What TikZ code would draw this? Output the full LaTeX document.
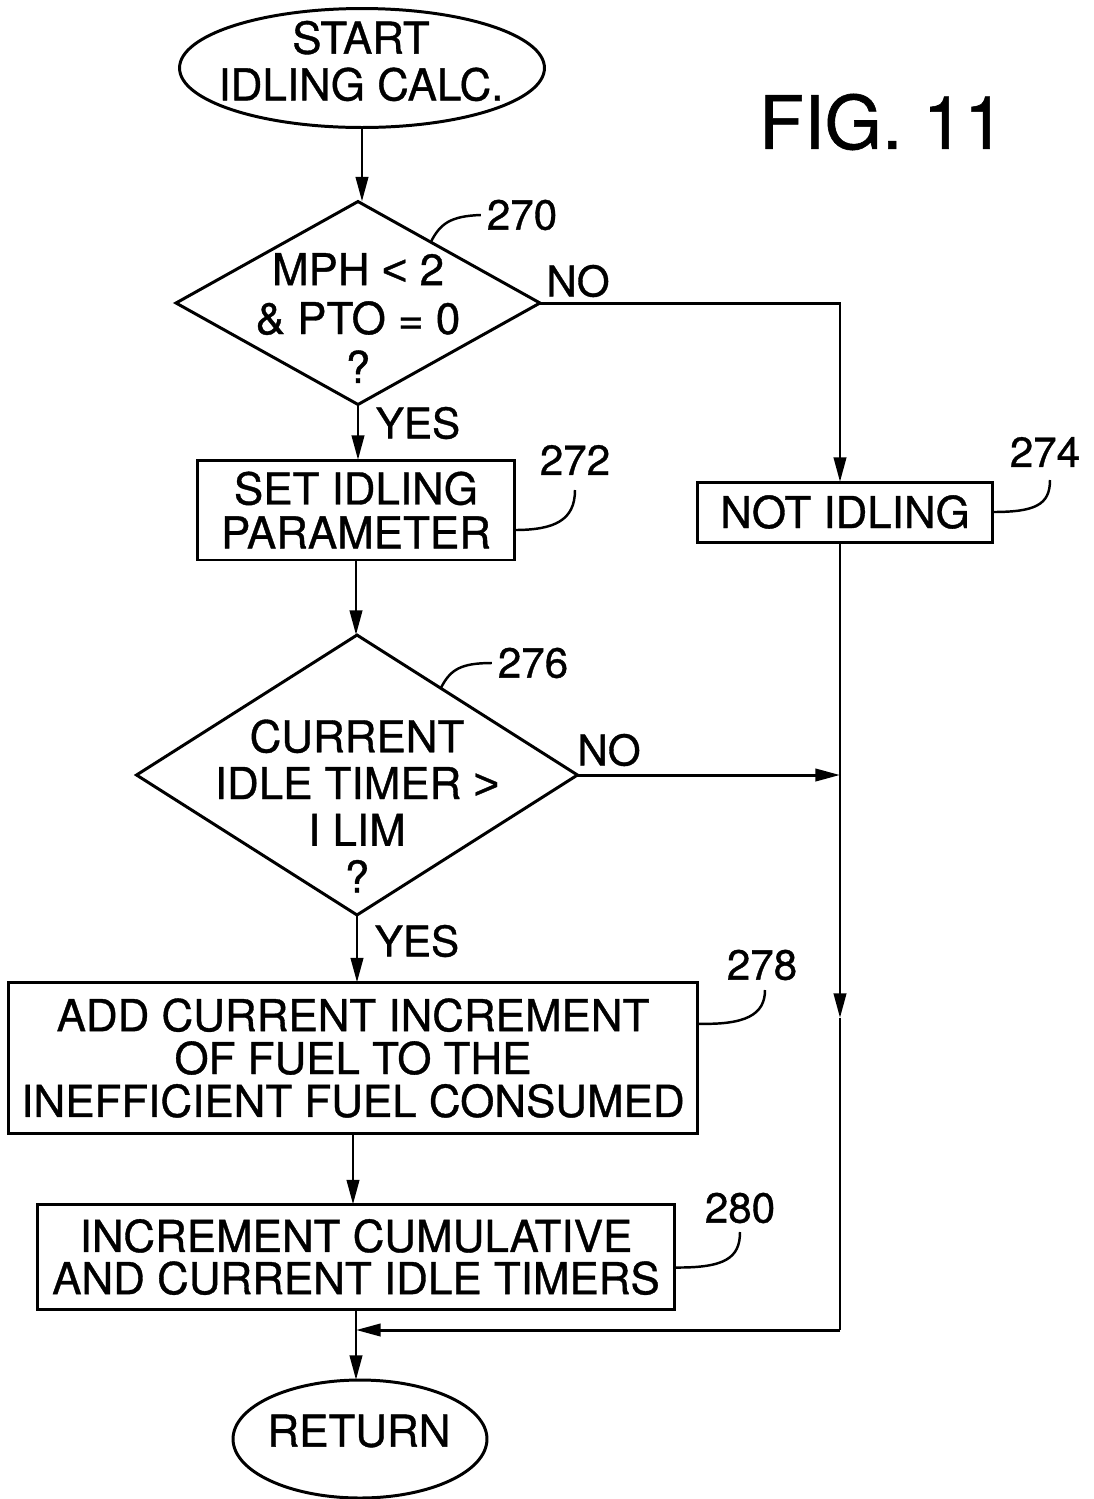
\documentclass[tikz,border=0pt]{standalone}
\usepackage{fontspec}
\setmainfont{TeX Gyre Heros}[FakeBold=0.8]
\newfontfamily\libsans{Liberation Sans}[FakeBold=0.8]
\usetikzlibrary{shapes.geometric,arrows.meta,calc}
\begin{document}
\begin{tikzpicture}[x=0.02cm,y=-0.02cm,
  line width=1.7pt,
  every node/.style={inner sep=0pt,outer sep=0pt},
  txt/.style={font=\fontsize{25}{#1}\selectfont,align=center},
  txt/.default=24.4,
  lbl/.style={font=\fontsize{24}{24}\selectfont},
  boxn/.style={draw,rectangle},
  ellip/.style={draw,ellipse},
  dia/.style={draw,diamond},
  arr/.style={-{Triangle[length=14pt,width=7pt]}},
  lead/.style={line width=1.4pt}
]
\useasboundingbox (0,0) rectangle (1093,1499);

% nodes
\node[ellip,minimum width=7.3cm,minimum height=2.38cm] (start) at (362,68) {};
\node[txt=26.6] (tstart) at (361,61) {START\\IDLING CALC.};
\node[dia,minimum width=7.28cm,minimum height=4.06cm] (d270) at (358,303) {};
\node[txt=27.8] (t270) at (358,318) {MPH {\libsans <} 2\\\& PTO = 0\\?};
\node[boxn,minimum width=6.34cm,minimum height=2.0cm,txt=25] (b272) at (356,510) {SET IDLING\\PARAMETER};
\node[boxn,minimum width=5.9cm,minimum height=1.2cm,txt] (b274) at (845,512) {NOT IDLING};
\node[dia,minimum width=8.82cm,minimum height=5.6cm] (d276) at (357,775) {};
\node[txt=26.6] (t276) at (357,806) {CURRENT\\IDLE TIMER {\libsans >}\\I LIM\\?};
\node[boxn,minimum width=13.8cm,minimum height=3.02cm,txt=24.4] (b278) at (353,1058) {ADD CURRENT INCREMENT\\OF FUEL TO THE\\INEFFICIENT FUEL CONSUMED};
\node[boxn,minimum width=12.76cm,minimum height=2.1cm,txt=24] (b280) at (356,1257) {INCREMENT CUMULATIVE\\AND CURRENT IDLE TIMERS};
\node[ellip,minimum width=5.08cm,minimum height=2.36cm] (ret) at (360,1439) {};
\node[txt] (tret) at (359,1431) {RETURN};

% labels
\node[lbl] (l270) at (522,215) {270};
\node[lbl] (l272) at (575,460) {272};
\node[lbl] (l274) at (1045,452) {274};
\node[lbl] (l276) at (533,663) {276};
\node[lbl] (l278) at (762,965) {278};
\node[lbl] (l280) at (740,1208) {280};
\node[lbl] (no1) at (578,281) {NO};
\node[lbl] (yes1) at (418,423) {YES};
\node[lbl] (no2) at (609,750) {NO};
\node[lbl] (yes2) at (417,941) {YES};
\node[font=\fontsize{42}{42}\selectfont] (fig) at (882,122) {FIG. 11};

% main chain
\draw[arr] (start.south) -- (start.south |- d270.north);
\draw[arr] (d270.south) -- (d270.south |- b272.north);
\draw[arr] (b272.south) -- (b272.south |- d276.north);
\draw[arr] (d276.south) -- (d276.south |- b278.north);
\draw[arr] (b278.south) -- (b278.south |- b280.north);
\draw[arr] (b280.south) -- (b280.south |- ret.north);

% right branch
\coordinate (c1) at (840,303);
\coordinate (c3) at (840,1018);
\coordinate (c2) at (840,1330);
\draw[arr] (d270.east) -- (c1) -- (c1 |- b274.north);
\draw[arr] (c1 |- b274.south) -- (c3);
\draw (c3) -- (c2);
\draw[arr] (c2) -- (c2 -| b280.south);
\draw[arr] (d276.east) -- (d276.east -| c1);

% leaders
\draw[lead] ($(d270.north)!0.4!(d270.east)$) .. controls (440,224) and (450,216) .. ($(l270.west)+(-6,0)$);
\draw[lead] ($(d276.north)!0.38!(d276.east)$) .. controls (450,670) and (460,663) .. ($(l276.west)+(-6,0)$);
\draw[lead] ($(b272.south east)!0.3!(b272.north east)$) .. controls (555,530) and (575,520) .. (575,490);
\draw[lead] (b274.east) .. controls (1035,512) and (1050,505) .. (1050,480);
\draw[lead] ($(b278.south east)!0.727!(b278.north east)$) .. controls (745,1025) and (765,1015) .. (765,990);
\draw[lead] ($(b280.south east)!0.4!(b280.north east)$) .. controls (725,1268) and (740,1258) .. (740,1232);
\end{tikzpicture}
\end{document}
